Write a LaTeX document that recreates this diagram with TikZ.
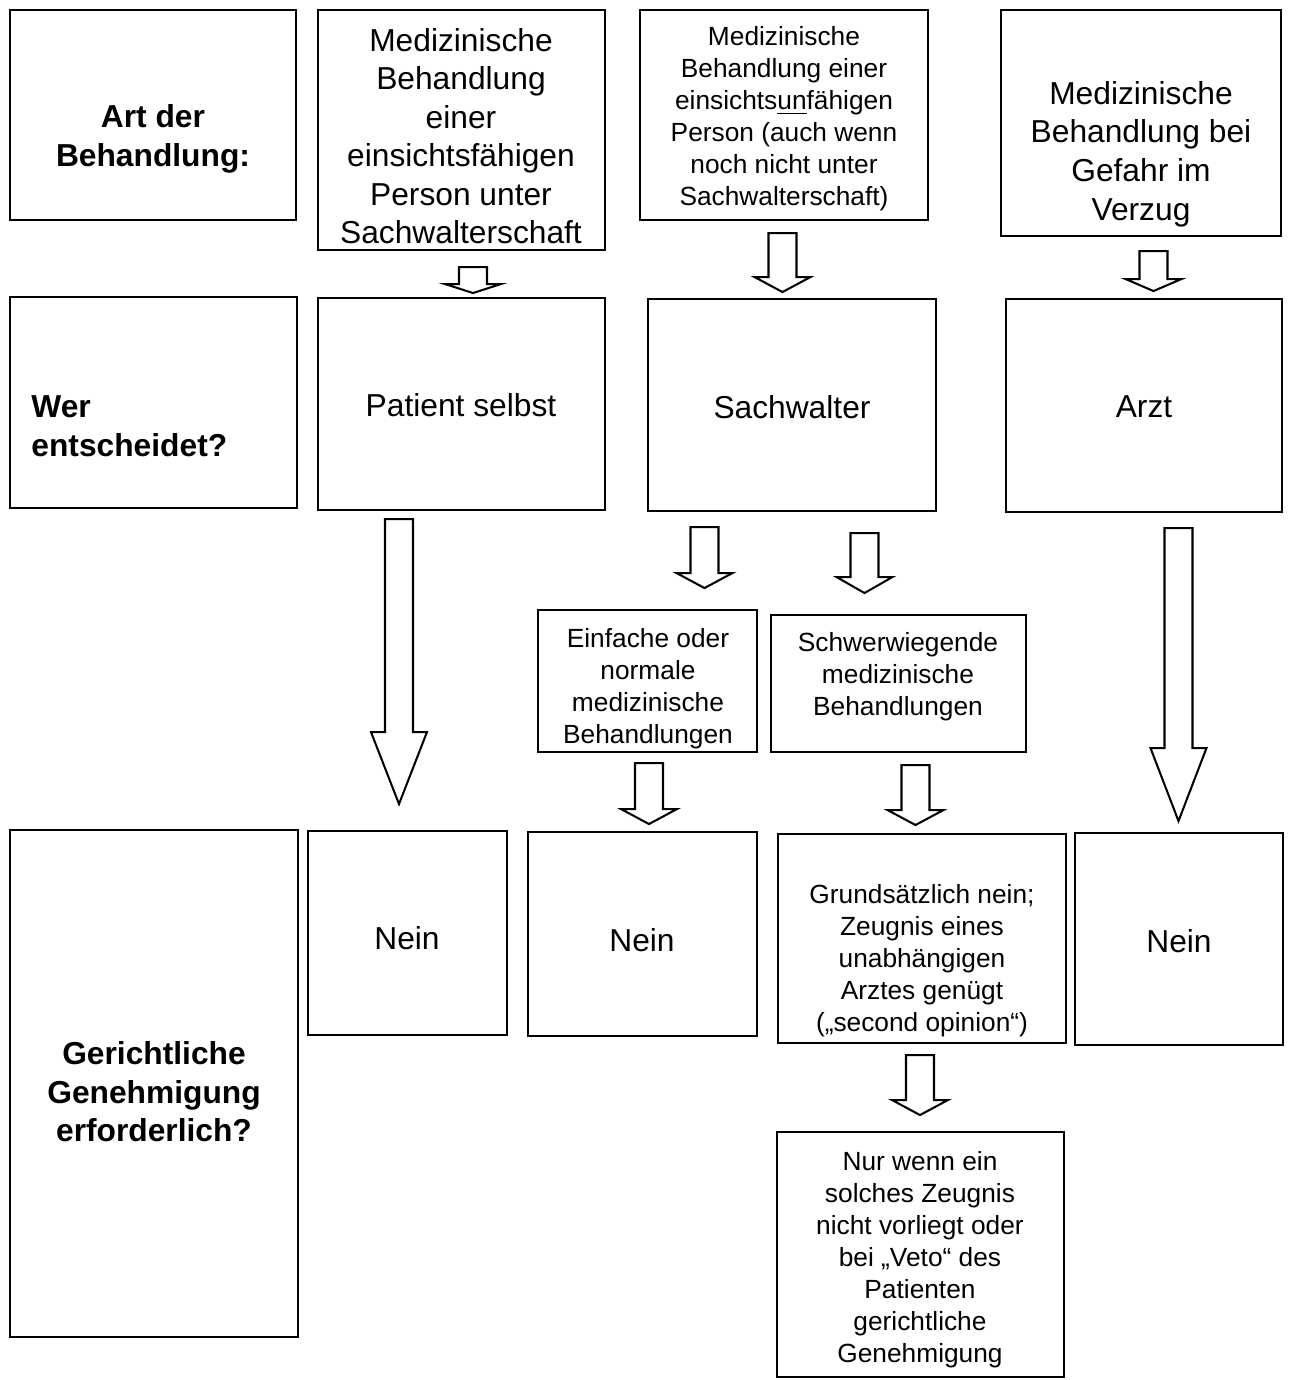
\documentclass[tikz,border=0pt]{standalone}
\usepackage{fontspec}
\setmainfont{Liberation Sans}
\usetikzlibrary{calc,fit,positioning}
\tikzset{
  rahmen/.style={
    rectangle,
    draw=black, line width=0.9pt,
    inner sep=0pt},
  gross/.style={align=center, inner sep=0pt, font=\fontsize{14}{17}\selectfont},
  klein/.style={align=center, inner sep=0pt, font=\fontsize{11.6}{14.1}\selectfont},
  kopf/.style={gross, font=\fontsize{14}{17}\selectfont\bfseries},
  pfeil/.style={draw=black, line width=0.9pt, fill=white, line join=miter},
}
% hohler Blockpfeil: Anfang, Schaftlaenge, Spitzenlaenge
\newcommand{\blockpfeil}[3]{%
  \draw[pfeil] #1 ++(-14,0) -- ++(28,0) -- ++(0,#2) -- ++(14,0)
    -- ++(-28,#3) -- ++(-28,-#3) -- ++(14,0) -- cycle;}

\begin{document}
\begin{tikzpicture}[x=0.0155cm, y=-0.0155cm]
\useasboundingbox (0,0) rectangle (1292,1380);

% Zeile 1
\node[rahmen, fit={(10,10) (296,220)}] (art) {};
\node[kopf] (artt) at (153,139) {Art der\\Behandlung:};
\node[rahmen, fit={(318,10) (605,250)}] (faehig) {};
\node[gross] (faehigt) at (461,136) {Medizinische\\Behandlung\\einer\\einsichtsfähigen\\Person unter\\Sachwalterschaft};
\node[rahmen, fit={(640,10) (928,220)}] (unfaehig) {};
\node[klein] (unfaehigt) at (784,119) {Medizinische\\Behandlung einer\\einsichts\underline{un}fähigen\\Person (auch wenn\\noch nicht unter\\Sachwalterschaft)};
\node[rahmen, fit={(1001,10) (1281,236)}] (gefahr) {};
\node[gross] (gefahrt) at (1141,154) {Medizinische\\Behandlung bei\\Gefahr im\\Verzug};

% Zeile 2
\node[rahmen, fit={(10,297) (297,508)}] (wer) {};
\node[kopf, align=left, anchor=west] (wert) at (31,426) {Wer\\entscheidet?};
\node[rahmen, fit={(318,298) (605,510)}] (patient) {};
\node[gross] (patientt) at (461,405) {Patient selbst};
\node[rahmen, fit={(648,299) (936,511)}] (sachwalter) {};
\node[gross] (sachwaltert) at (792,407) {Sachwalter};
\node[rahmen, fit={(1006,299) (1282,512)}] (arzt) {};
\node[gross] (arztt) at (1144,407) {Arzt};

% Zwischenzeile
\node[rahmen, fit={(538,610) (757,752)}] (einfach) {};
\node[klein] (einfacht) at (648,689) {Einfache oder\\normale\\medizinische\\Behandlungen};
\node[rahmen, fit={(771,615) (1026,752)}] (schwer) {};
\node[klein] (schwert) at (898,677) {Schwerwiegende\\medizinische\\Behandlungen};

% Zeile 3
\node[rahmen, fit={(10,830) (298,1337)}] (gericht) {};
\node[kopf] (gerichtt) at (154,1092) {Gerichtliche\\Genehmigung\\erforderlich?};
\node[rahmen, fit={(308,831) (507,1035)}] (nein1) {};
\node[gross] (nein1t) at (407,938) {Nein};
\node[rahmen, fit={(528,832) (757,1036)}] (nein2) {};
\node[gross] (nein2t) at (642,940) {Nein};
\node[rahmen, fit={(778,834) (1066,1043)}] (grund) {};
\node[klein] (grundt) at (922,961) {Grundsätzlich nein;\\Zeugnis eines\\unabhängigen\\Arztes genügt\\(„second opinion“)};
\node[rahmen, fit={(1075,833) (1283,1045)}] (nein3) {};
\node[gross] (nein3t) at (1179,941) {Nein};
\node[rahmen, fit={(777,1132) (1064,1377)}] (nur) {};
\node[klein] (nurt) at (920,1260) {Nur wenn ein\\solches Zeugnis\\nicht vorliegt oder\\bei „Veto“ des\\Patienten\\gerichtliche\\Genehmigung};

% Pfeile
\blockpfeil{($(faehig.south)+(11.5,16)$)}{17}{9}
\blockpfeil{($(unfaehig.south)+(-1.5,12)$)}{44}{15}
\blockpfeil{($(gefahr.south)+(12.5,14)$)}{28}{12}
\blockpfeil{($(patient.south)+(-62.5,8)$)}{213}{72}
\blockpfeil{($(arzt.south)+(34.5,15)$)}{220}{73}
\blockpfeil{($(sachwalter.south)+(-87.5,15)$)}{46}{15}
\blockpfeil{($(sachwalter.south)+(72.5,21)$)}{44}{16}
\blockpfeil{($(einfach.south)+(1.5,10)$)}{46}{15}
\blockpfeil{($(schwer.south)+(17,12)$)}{45}{15}
\blockpfeil{($(grund.south)+(-2,11)$)}{45}{15}
\end{tikzpicture}
\end{document}
